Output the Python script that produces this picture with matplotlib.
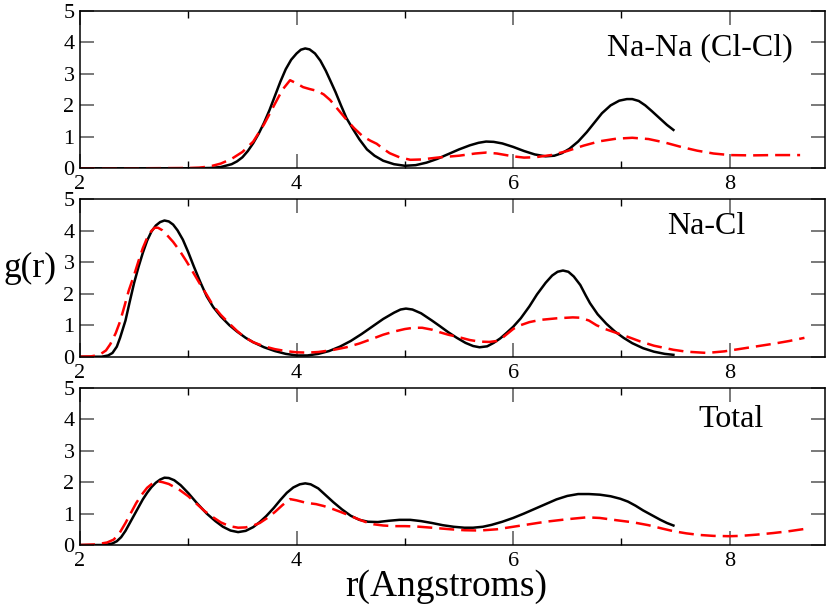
import matplotlib.pyplot as plt
from matplotlib.ticker import MultipleLocator

plt.rcParams['font.family'] = ['Liberation Serif', 'DejaVu Serif']

# ---------------- Na-Na (Cl-Cl) ----------------
nana_x_solid = [2.0, 2.5, 3.0, 3.2, 3.3, 3.4, 3.45, 3.5, 3.55, 3.6, 3.65, 3.7, 3.75, 3.8, 3.85,
                3.9, 3.95, 4.0, 4.04, 4.08, 4.12, 4.17, 4.22, 4.27, 4.31, 4.36, 4.41, 4.46,
                4.52, 4.58, 4.65, 4.72, 4.8, 4.9, 5.0, 5.1, 5.2, 5.3, 5.4, 5.5, 5.6, 5.68,
                5.75, 5.82, 5.9, 6.0, 6.1, 6.2, 6.3, 6.38, 6.45, 6.52, 6.6, 6.68, 6.75, 6.82,
                6.9, 6.98, 7.05, 7.1, 7.16, 7.22, 7.28, 7.35, 7.42, 7.48]
nana_y_solid = [0, 0, 0, 0.01, 0.04, 0.13, 0.22, 0.35, 0.55, 0.8, 1.1, 1.45, 1.85, 2.3, 2.75,
                3.15, 3.45, 3.65, 3.77, 3.81, 3.78, 3.65, 3.42, 3.1, 2.8, 2.42, 2.0, 1.6,
                1.25, 0.92, 0.6, 0.4, 0.24, 0.13, 0.08, 0.1, 0.18, 0.3, 0.45, 0.6, 0.73, 0.81,
                0.85, 0.84, 0.79, 0.68, 0.55, 0.44, 0.38, 0.4, 0.48, 0.62, 0.85, 1.15, 1.45, 1.75,
                2.0, 2.15, 2.2, 2.2, 2.14, 2.0, 1.82, 1.6, 1.38, 1.22]
nana_x_dash = [2.0, 2.5, 3.0, 3.1, 3.2, 3.3, 3.4, 3.5, 3.6, 3.7, 3.8, 3.87, 3.94, 4.0, 4.06,
               4.12, 4.19, 4.25, 4.31, 4.38, 4.46, 4.53, 4.61, 4.68, 4.74, 4.8, 4.86, 4.95,
               5.05, 5.15, 5.3, 5.5, 5.65, 5.75, 5.85, 6.0, 6.1, 6.2, 6.35, 6.5, 6.65, 6.8,
               6.95, 7.1, 7.25, 7.4, 7.55, 7.7, 7.85, 8.0, 8.2, 8.4, 8.65]
nana_y_dash = [0, 0, 0.01, 0.02, 0.06, 0.15, 0.3, 0.52, 0.85, 1.4, 2.05, 2.5, 2.8, 2.7, 2.58,
               2.52, 2.46, 2.35, 2.17, 1.88, 1.55, 1.28, 1.02, 0.88, 0.78, 0.62, 0.48, 0.35,
               0.27, 0.28, 0.34, 0.4, 0.47, 0.5, 0.47, 0.38, 0.34, 0.35, 0.42, 0.55, 0.72, 0.86,
               0.94, 0.97, 0.93, 0.82, 0.68, 0.56, 0.47, 0.42, 0.41, 0.42, 0.42]

# ---------------- Na-Cl ----------------
nacl_x_solid = [2.0, 2.2, 2.26, 2.3, 2.34, 2.37, 2.42, 2.46, 2.5, 2.54, 2.58, 2.62, 2.66, 2.7,
                2.74, 2.78, 2.82, 2.86, 2.9, 2.95, 3.0, 3.05, 3.11, 3.17, 3.23, 3.3, 3.38,
                3.45, 3.53, 3.6, 3.7, 3.8, 3.9, 4.0, 4.1, 4.2, 4.3, 4.4, 4.5, 4.6, 4.7, 4.8,
                4.9, 4.96, 5.01, 5.07, 5.15, 5.25, 5.32, 5.4, 5.48, 5.56, 5.63, 5.69, 5.76,
                5.82, 5.88, 5.94, 6.0, 6.07, 6.15, 6.22, 6.3, 6.36, 6.41, 6.46, 6.51, 6.56,
                6.62, 6.67, 6.71, 6.78, 6.86, 6.94, 7.02, 7.1, 7.2, 7.3, 7.4, 7.48]
nacl_y_solid = [0, 0, 0.04, 0.12, 0.32, 0.6, 1.15, 1.76, 2.35, 2.85, 3.3, 3.69, 3.98, 4.17,
                4.28, 4.33, 4.3, 4.2, 4.02, 3.72, 3.32, 2.88, 2.38, 1.92, 1.58, 1.28, 1.0,
                0.8, 0.6, 0.46, 0.3, 0.18, 0.09, 0.04, 0.04, 0.09, 0.18, 0.32, 0.5, 0.72, 0.96,
                1.2, 1.4, 1.5, 1.53, 1.5, 1.38, 1.15, 0.98, 0.78, 0.6, 0.44, 0.34, 0.3, 0.33,
                0.44, 0.58, 0.76, 0.95, 1.22, 1.6, 1.98, 2.35, 2.58, 2.7, 2.74, 2.7, 2.55,
                2.28, 1.95, 1.7, 1.35, 1.05, 0.8, 0.6, 0.43, 0.27, 0.16, 0.09, 0.06]
nacl_x_dash = [2.0, 2.1, 2.18, 2.24, 2.28, 2.33, 2.37, 2.41, 2.45, 2.5, 2.54, 2.58, 2.62, 2.66,
               2.69, 2.72, 2.76, 2.8, 2.86, 2.92, 2.98, 3.05, 3.11, 3.17, 3.23, 3.3, 3.38,
               3.45, 3.52, 3.6, 3.7, 3.8, 3.9, 4.0, 4.1, 4.2, 4.33, 4.46, 4.58, 4.7, 4.8, 4.9,
               5.0, 5.08, 5.16, 5.25, 5.32, 5.4, 5.5, 5.6, 5.69, 5.78, 5.85, 5.9, 5.95, 6.0,
               6.05, 6.15, 6.25, 6.4, 6.55, 6.62, 6.7, 6.77, 6.85, 6.95, 7.02, 7.1, 7.17, 7.3,
               7.48, 7.6, 7.79, 7.95, 8.1, 8.25, 8.4, 8.55, 8.69]
nacl_y_dash = [0, 0.01, 0.06, 0.2, 0.4, 0.75, 1.12, 1.6, 2.1, 2.6, 3.04, 3.45, 3.78, 4.0,
               4.1, 4.1, 4.02, 3.88, 3.65, 3.37, 3.05, 2.65, 2.3, 1.97, 1.62, 1.33, 1.05,
               0.82, 0.62, 0.46, 0.33, 0.24, 0.18, 0.14, 0.13, 0.15, 0.21, 0.3, 0.42, 0.57, 0.7,
               0.8, 0.88, 0.92, 0.92, 0.86, 0.78, 0.7, 0.62, 0.53, 0.48, 0.47, 0.5, 0.6, 0.74,
               0.88, 0.98, 1.1, 1.17, 1.22, 1.25, 1.24, 1.15, 1.0, 0.88, 0.76, 0.68, 0.58,
               0.49, 0.35, 0.22, 0.16, 0.12, 0.17, 0.25, 0.33, 0.41, 0.5, 0.6]

# ---------------- Total ----------------
tot_x_solid = [2.0, 2.2, 2.26, 2.3, 2.34, 2.38, 2.42, 2.46, 2.5, 2.54, 2.58, 2.62, 2.66, 2.7,
               2.74, 2.78, 2.82, 2.87, 2.93, 3.0, 3.08, 3.17, 3.25, 3.32, 3.39, 3.46, 3.53,
               3.6, 3.66, 3.72, 3.79, 3.85, 3.91, 3.97, 4.03, 4.08, 4.13, 4.2, 4.27, 4.34,
               4.42, 4.5, 4.58, 4.66, 4.75, 4.85, 4.95, 5.05, 5.15, 5.25, 5.35, 5.45, 5.55,
               5.63, 5.72, 5.8, 5.9, 6.0, 6.1, 6.2, 6.3, 6.4, 6.5, 6.6, 6.7, 6.8, 6.9, 6.99,
               7.06, 7.13, 7.2, 7.28, 7.36, 7.42, 7.48]
tot_y_solid = [0, 0, 0.02, 0.05, 0.12, 0.25, 0.45, 0.7, 0.95, 1.2, 1.45, 1.66, 1.84, 1.98,
               2.08, 2.14, 2.13, 2.06, 1.9, 1.65, 1.33, 1.0, 0.76, 0.58, 0.46, 0.41, 0.45,
               0.57, 0.73, 0.92, 1.18, 1.43, 1.66, 1.83, 1.93, 1.96, 1.93, 1.8, 1.58, 1.36,
               1.13, 0.93, 0.8, 0.74, 0.73, 0.77, 0.8, 0.8, 0.76, 0.7, 0.63, 0.58, 0.55,
               0.55, 0.58, 0.64, 0.74, 0.86, 1.0, 1.15, 1.3, 1.45, 1.56, 1.62, 1.62, 1.6, 1.55,
               1.47, 1.38, 1.25, 1.1, 0.95, 0.8, 0.7, 0.62]
tot_x_dash = [2.0, 2.15, 2.25, 2.31, 2.36, 2.42, 2.47, 2.52, 2.57, 2.62, 2.67, 2.71, 2.76,
              2.82, 2.92, 3.0, 3.08, 3.15, 3.23, 3.3, 3.38, 3.46, 3.53, 3.6, 3.66, 3.73, 3.8,
              3.87, 3.94, 4.0, 4.09, 4.18, 4.25, 4.33, 4.4, 4.48, 4.55, 4.63, 4.71, 4.8, 4.9,
              5.0, 5.1, 5.25, 5.42, 5.55, 5.69, 5.85, 6.0, 6.15, 6.3, 6.5, 6.68, 6.8, 6.95,
              7.11, 7.25, 7.38, 7.48, 7.6, 7.72, 7.85, 8.0, 8.1, 8.25, 8.4, 8.55, 8.69]
tot_y_dash = [0, 0.02, 0.08, 0.17, 0.35, 0.7, 1.02, 1.34, 1.6, 1.82, 1.96, 2.03, 2.0,
              1.94, 1.75, 1.55, 1.3, 1.08, 0.88, 0.72, 0.6, 0.55, 0.56, 0.62, 0.7, 0.86, 1.05,
              1.27, 1.46, 1.42, 1.34, 1.3, 1.24, 1.15, 1.06, 0.95, 0.85, 0.74, 0.66, 0.62, 0.6,
              0.6, 0.59, 0.55, 0.5, 0.47, 0.46, 0.5, 0.58, 0.66, 0.74, 0.82, 0.88, 0.86, 0.79,
              0.72, 0.63, 0.52, 0.44, 0.37, 0.32, 0.29, 0.28, 0.29, 0.33, 0.38, 0.44, 0.51]

panels = [
    ("Na-Na (Cl-Cl)", (0.832, 0.765), nana_x_solid, nana_y_solid, nana_x_dash, nana_y_dash),
    ("Na-Cl", (0.840, 0.83), nacl_x_solid, nacl_y_solid, nacl_x_dash, nacl_y_dash),
    ("Total", (0.874, 0.80), tot_x_solid, tot_y_solid, tot_x_dash, tot_y_dash),
]
bottoms = [0.7232, 0.4133, 0.1036]

fig = plt.figure(figsize=(8.29, 6.08), dpi=100)

for (name, pos, xs, ys, xd, yd), b in zip(panels, bottoms):
    ax = fig.add_axes([0.0965, b, 0.8987, 0.2587])
    ax.plot(xs, ys, color='black', lw=1.8)
    ax.plot(xd, yd, color='#ff0000', lw=1.8, dashes=(6, 2.8))
    ax.set_xlim(2, 8.88)
    ax.set_ylim(0, 5)
    ax.xaxis.set_major_locator(MultipleLocator(2))
    ax.xaxis.set_minor_locator(MultipleLocator(1))
    ax.yaxis.set_major_locator(MultipleLocator(1))
    ax.tick_params(which='both', direction='in', top=True, right=True, labelsize=16)
    ax.tick_params(which='major', length=10, width=1.1, color='#555555', pad=5)
    ax.tick_params(axis='y', which='major', pad=4)
    ax.tick_params(which='minor', length=5, width=1.0, color='black')
    for s in ax.spines.values():
        s.set_linewidth(1.1)
    ax.text(pos[0], pos[1], name, transform=ax.transAxes, fontsize=23,
            ha='center', va='center')

fig.text(30 / 829, 1 - 268 / 608, "g(r)", fontsize=25.5, ha='center', va='center')
fig.text(446 / 829, 1 - 587 / 608, "r(Angstroms)", fontsize=27, ha='center', va='center')

fig.savefig('out.png', dpi=100)
